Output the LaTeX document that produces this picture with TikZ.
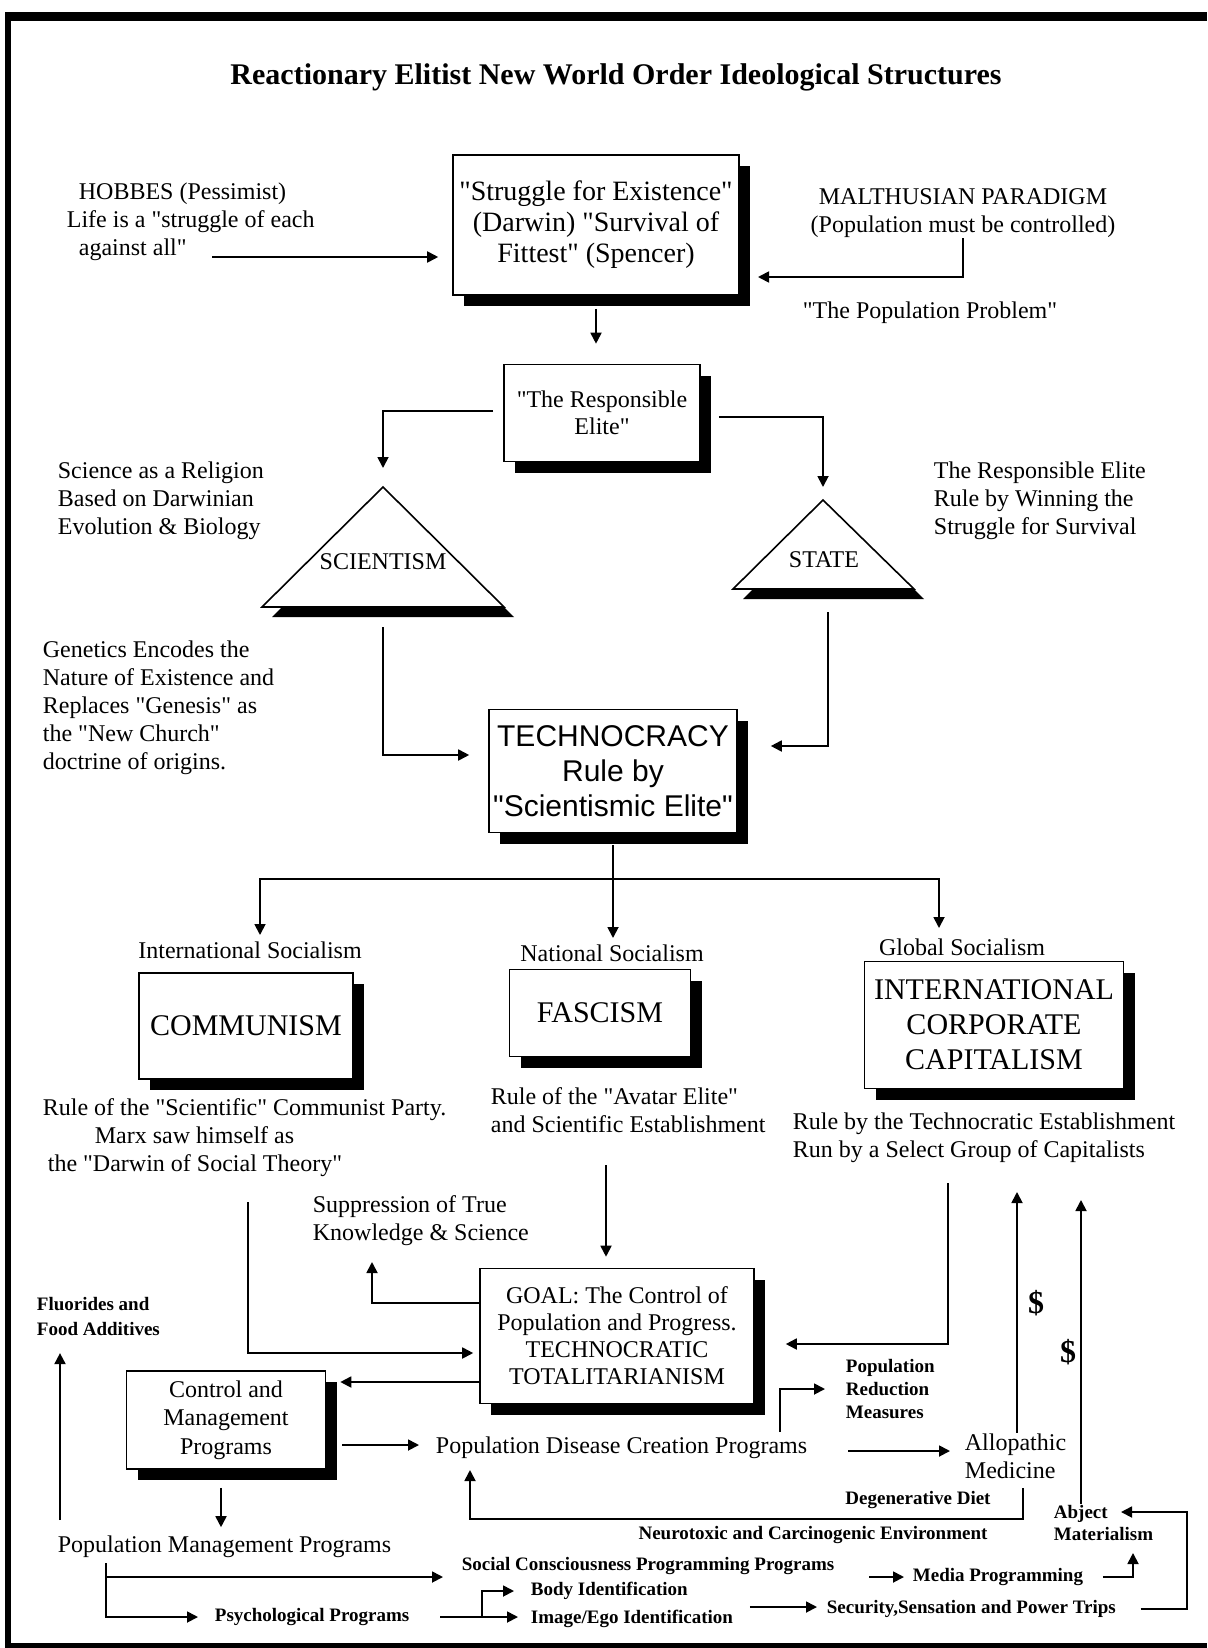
\documentclass[tikz,border=0pt]{standalone}
\usepackage{fontspec}
\setmainfont{Liberation Serif}[Ligatures=TeXOff]
\newfontfamily\arialfont{Liberation Sans}[Ligatures=TeXOff]
\usetikzlibrary{arrows.meta,shadows}

\begin{document}
\begin{tikzpicture}[x=0.5pt,y=-0.5pt,
>={Triangle[length=5.5pt,width=5.5pt]},
line width=0.9pt,
box/.style={
	rectangle,draw=black,line width=0.8pt,fill=white,inner sep=1pt,align=center,
	drop shadow={shadow xshift=5.5pt,shadow yshift=-5.5pt,fill=black,opacity=1}},
tri/.style={
	draw=black,line width=0.8pt,fill=white,
	drop shadow={shadow xshift=5pt,shadow yshift=-5pt,fill=black,opacity=1}},
note/.style={inner sep=0pt,align=left,font=\fontsize{12}{14}\selectfont},
tiny/.style={inner sep=0pt,align=left,font=\bfseries\fontsize{9.5}{11.5}\selectfont},
big/.style={font=\fontsize{15}{17.5}\selectfont},
usd/.style={font=\bfseries\fontsize{16}{16}\selectfont},
]
\useasboundingbox (0,0) rectangle (1207,1648);
% frame
\draw[line width=4.5pt] (5,17) -- (1207,17);
\draw[line width=3pt] (8,15) -- (8,1648);
\draw[line width=2.5pt] (5,1645) -- (1207,1645);

\node[font=\bfseries\fontsize{15}{17}\selectfont] (title) at (616,77) {Reactionary Elitist New World Order Ideological Structures};

% top row
\node[note,anchor=west] (hobbes) at (66,222) {\hspace*{6pt}HOBBES (Pessimist)\\Life is a "struggle of each\\\hspace*{6pt}against all"};
\node[box,minimum width=143pt,minimum height=70pt,font=\fontsize{14}{15.5}\selectfont] (struggle) at (596,225) {"Struggle for Existence"\\(Darwin) "Survival of\\Fittest" (Spencer)};
\node[note,align=center] (malthus) at (963,213) {MALTHUSIAN PARADIGM\\(Population must be controlled)};
\node[note] (popprob) at (930,313) {"The Population Problem"};
\coordinate (hobbesout) at (212,257);
\coordinate (malin) at (758,277);
\draw[->,shorten >=7pt] (hobbesout) -- (hobbesout -| struggle.west);
\draw[->] (malthus.south) |- (malin);

\node[box,minimum width=98pt,minimum height=48.5pt,font=\fontsize{12}{13.5}\selectfont] (elite) at (602,413) {"The Responsible\\Elite"};
\draw[->,shorten >=10pt] ([yshift=-6.5pt]struggle.south) -- (struggle.south |- elite.north);

% triangles
\coordinate (sciapex) at (383,487);
\coordinate (stapex) at (823,500);
\draw[tri] (sciapex) -- ++(121,120) -- ++(-242,0) -- cycle;
\draw[tri] (stapex) -- ++(91,89) -- ++(-181,0) -- cycle;
\node[note] (scientism) at (383,562) {SCIENTISM};
\node[note] (state) at (824,560) {STATE};
\draw[->,shorten >=9.5pt] ([xshift=-5pt,yshift=1pt]elite.west) -| (sciapex);
\draw[->,shorten >=6.5pt] ([xshift=9pt,yshift=-2pt]elite.east) -| (stapex);

\node[note,anchor=west] (religion) at (57,501) {Science as a Religion\\Based on Darwinian\\Evolution \& Biology};
\node[note,anchor=west] (survival) at (933,501) {The Responsible Elite\\Rule by Winning the\\Struggle for Survival};
\node[note,anchor=west] (genetics) at (42,708) {Genetics Encodes the\\Nature of Existence and\\Replaces "Genesis" as\\the "New Church"\\doctrine of origins.};

\node[box,minimum width=124pt,minimum height=61.5pt,font=\arialfont\fontsize{15}{17.5}\selectfont] (techno) at (613,771) {TECHNOCRACY\\Rule by\\"Scientismic Elite"};
\coordinate (scibase) at (383,627);
\coordinate (stbase) at (828,612);
\draw[->,shorten >=9.5pt] (scibase) |- ([yshift=8pt]techno.west);
\draw[->,shorten >=16.5pt] (stbase) |- ([yshift=12.5pt]techno.east);

% three branches
\coordinate (split) at (613,879);
\coordinate (tipL) at (260,935);
\coordinate (tipM) at (613,938);
\coordinate (tipR) at (939,928);
\draw ([yshift=-6pt]techno.south) -- (split);
\draw[->] (split) -| (tipL);
\draw[->] (split) -- (tipM);
\draw[->] (split) -| (tipR);

\node[note] (intl) at (250,950) {International Socialism};
\node[note] (natl) at (612,953) {National Socialism};
\node[note] (glob) at (962,947) {Global Socialism};
\node[box,big,minimum width=107pt,minimum height=53pt] (comm) at (246,1026) {COMMUNISM};
\node[box,big,minimum width=90.5pt,minimum height=43.5pt] (fasc) at (600,1013) {FASCISM};
\node[box,big,minimum width=129.5pt,minimum height=63.5pt] (icc) at (994,1025) {INTERNATIONAL\\CORPORATE\\CAPITALISM};

\node[note,anchor=west] (rulecomm) at (42,1138) {Rule of the "Scientific" Communist Party.\\\hspace*{26pt}Marx saw himself as\\\hspace*{2.5pt}the "Darwin of Social Theory"};
\node[note,anchor=west] (rulefasc) at (490,1110) {Rule of the "Avatar Elite"\\and Scientific Establishment};
\node[note,anchor=west] (ruleicc) at (792,1138) {Rule by the Technocratic Establishment\\Run by a Select Group of Capitalists};
\node[note,anchor=west] (suppress) at (312,1221) {Suppression of True\\Knowledge \& Science};

% goal
\node[box,minimum width=137pt,minimum height=67.5pt,font=\fontsize{12}{13.5}\selectfont] (goal) at (617,1336) {GOAL: The Control of\\Population and Progress.\\TECHNOCRATIC\\TOTALITARIANISM};
\coordinate (fdown) at (606,1165);
\coordinate (cdown) at (248,1202);
\coordinate (suptip) at (372,1262);
\coordinate (idown) at (948,1183);
\draw[->,shorten >=5.5pt] (fdown) -- (fdown |- goal.north);
\draw[->,shorten >=3pt] (cdown) |- ([yshift=-8.5pt]goal.west);
\draw[->] ([yshift=16.5pt]goal.west) -| (suptip);
\draw[->,shorten >=15.5pt] (idown) |- ([yshift=-4pt]goal.east);

\node[box,minimum width=99.5pt,minimum height=49pt,font=\fontsize{12}{14.25}\selectfont] (ctrl) at (226,1420) {Control and\\Management\\Programs};
\coordinate (gl2) at ([yshift=-23pt]goal.west);
\draw[->,shorten >=7pt] (gl2) -- (gl2 -| ctrl.east);

\node[tiny,anchor=west] (popred) at (845,1389) {Population\\Reduction\\Measures};
\coordinate (redstart) at (780,1432);
\draw[->,shorten >=10pt] (redstart) |- (popred.west);

% disease and medicine
\node[note,anchor=west] (disease) at (435,1448) {Population Disease Creation Programs};
\node[note,anchor=west] (allo) at (964,1456) {Allopathic\\Medicine};
\coordinate (ctrlout) at ([xshift=8pt,yshift=-12.5pt]ctrl.east);
\draw[->,shorten >=8pt] (ctrlout) -- (ctrlout -| disease.west);
\coordinate (disout) at ([xshift=20pt,yshift=-1.5pt]disease.east);
\draw[->,shorten >=7pt] (disout) -- (disout -| allo.west);

\node[tiny,anchor=west,font=\bfseries\fontsize{9.5}{11}\selectfont] (abject) at (1053,1523) {Abject\\Materialism};
\coordinate (up1) at (1017,1192);
\coordinate (up2) at (1081,1200);
\draw[->] (up1 |- allo.north) -- (up1);
\draw[->] (up2 |- abject.north) -- (up2);
\node[usd] (usd1) at (1036,1303) {\$};
\node[usd] (usd2) at (1068,1352) {\$};

\node[tiny] (diet) at (918,1500) {Degenerative Diet};
\node[tiny] (neuro) at (813,1535) {Neurotoxic and Carcinogenic Environment};
\coordinate (loopA) at (1023,1488);
\coordinate (loopB) at (470,1519);
\coordinate (loopT) at (470,1470);
\draw[->] (loopA) |- (loopB) -- (loopT);

% management programs
\node[note,anchor=west] (pmp) at (57,1547) {Population Management Programs};
\node[tiny,anchor=west,font=\bfseries\fontsize{9.5}{12.5}\selectfont] (fluor) at (36,1316) {Fluorides and\\Food Additives};
\coordinate (ctrldown) at ([xshift=-2.5pt,yshift=-9pt]ctrl.south);
\draw[->,shorten >=4pt] (ctrldown) -- (ctrldown |- pmp.north);
\coordinate (fluA) at (60,1520);
\draw[->,shorten >=8.5pt] (fluA) -- (fluA |- fluor.south);

\node[tiny,anchor=west] (social) at (461,1566) {Social Consciousness Programming Programs};
\node[tiny,anchor=west] (psych) at (214,1617) {Psychological Programs};
\node[tiny,anchor=west] (body) at (530,1591) {Body Identification};
\node[tiny,anchor=west] (image) at (530,1619) {Image/Ego Identification};
\node[tiny,anchor=west] (media) at (912,1577) {Media Programming};
\node[tiny,anchor=west] (security) at (826,1609) {Security,Sensation and Power Trips};
\coordinate (pmpA) at (106,1563);
\coordinate (pmpC) at (106,1577);
\draw[->,shorten >=8pt] (pmpA) |- (psych.west);
\draw[->,shorten >=9pt] (pmpC) -- (pmpC -| social.west);
\coordinate (psyout) at ([xshift=15pt]psych.east);
\draw[->,shorten >=6pt] (psyout) -- (psyout -| image.west);
\coordinate (bodyfork) at (482,1617);
\draw[->,shorten >=8pt] (bodyfork) |- (body.west);
\coordinate (imgout) at ([xshift=8pt,yshift=6pt]image.east);
\draw[->,shorten >=4.5pt] (imgout) -- (imgout -| security.west);
\draw[->,shorten >=4pt] ([xshift=-21.5pt]media.west) -- (media.west);
\coordinate (medup) at (1133,1553);
\draw[->] ([xshift=9.5pt]media.east) -| (medup);
\coordinate (abjcorner) at (1187,1512);
\coordinate (abjin) at (1121,1512);
\draw[->] ([xshift=12pt]security.east) -| (abjcorner) -- (abjin);
\end{tikzpicture}
\end{document}
